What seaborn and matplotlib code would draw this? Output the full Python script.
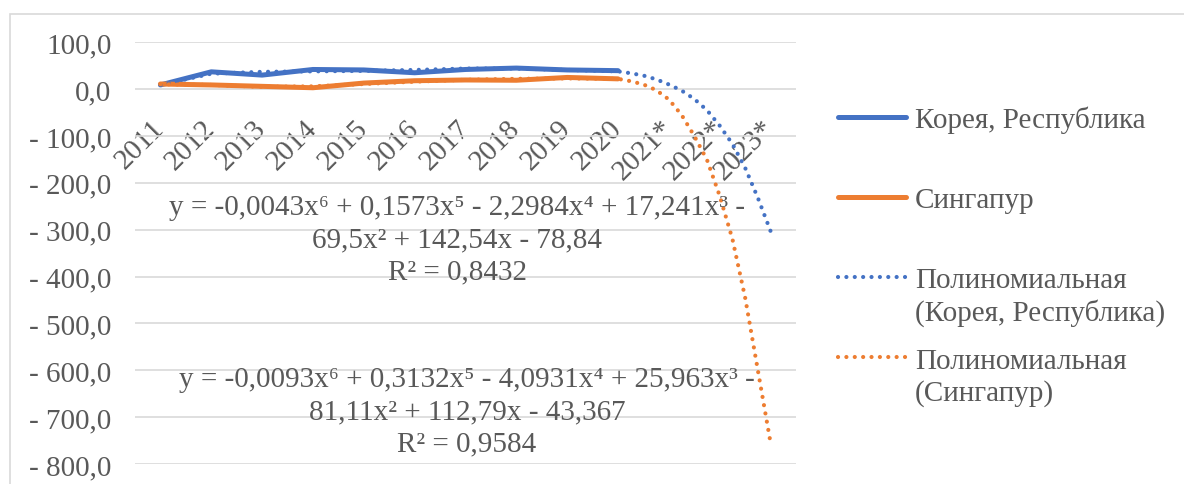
import numpy as np
import pandas as pd
import matplotlib
matplotlib.use("Agg")
import matplotlib.pyplot as plt
import seaborn as sns
from matplotlib.lines import Line2D
from matplotlib.patches import Rectangle

# Данные
years = ["2011", "2012", "2013", "2014", "2015", "2016", "2017", "2018", "2019", "2020"]
forecast_years = ["2021*", "2022*", "2023*"]
korea = [9, 37, 30, 42, 41, 35, 42, 45, 41, 39.5]
singapore = [11, 9, 6, 3, 13, 18, 19.6, 19, 25, 22]

trend_x = [0, 1, 2, 3, 4, 5, 6, 7, 8, 9, 9.25, 9.5, 9.75, 10, 10.25, 10.5, 10.75,
           11, 11.25, 11.5, 11.75, 12]
trend_korea = [9, 33, 37, 38, 39, 41, 44, 44, 41, 38, 34, 29, 21, 10, -3, -21, -45,
               -78, -117, -168, -232, -303]
trend_singapore = [10.5, 9, 5, 6, 11, 16, 20, 22, 23, 22, 17, 10, -2, -22, -55, -100, -151,
                   -228, -320, -445, -600, -755]

eq_korea = "y = -0,0043x⁶ + 0,1573x⁵ - 2,2984x⁴ + 17,241x³ -\n69,5x² + 142,54x - 78,84\nR² = 0,8432"
eq_singapore = "y = -0,0093x⁶ + 0,3132x⁵ - 4,0931x⁴ + 25,963x³ -\n81,11x² + 112,79x - 43,367\nR² = 0,9584"

names = ["Корея, Республика", "Сингапур"]
blue = "#4472C4"
orange = "#ED7D31"
grey_text = "#595959"
fs = 21

sns.set_style("white")
plt.rcParams['font.family'] = ['Liberation Serif', 'DejaVu Serif']

W, H = 1184, 485
fig = plt.figure(figsize=(W / 100, H / 100), dpi=100)
# рамка области диаграммы
fig.patches.append(Rectangle((9.5 / W, -0.1), 1.2, 1 - 14.5 / H + 0.1, transform=fig.transFigure,
                             fill=False, edgecolor="#D9D9D9", linewidth=1.2))

ax = fig.add_axes([135 / W, 20 / H, 661 / W, 421.7 / H])

df = pd.DataFrame({
    "x": list(range(len(years))) * 2,
    "value": korea + singapore,
    "series": [names[0]] * len(years) + [names[1]] * len(years),
})
sns.lineplot(data=df, x="x", y="value", hue="series", palette=[blue, orange],
             linewidth=3.6, solid_capstyle="round", legend=False, ax=ax, zorder=3)

dots = (0, (0.01, 2.0))
sns.lineplot(x=trend_x, y=trend_korea, color=blue, linewidth=3.0, linestyle=dots,
             dash_capstyle="round", ax=ax, zorder=4)
sns.lineplot(x=trend_x, y=trend_singapore, color=orange, linewidth=3.0, linestyle=dots,
             dash_capstyle="round", ax=ax, zorder=4)

# ось категорий проходит через ноль
ax.spines["bottom"].set_position(("data", 0))
for s in ["left", "right", "top", "bottom"]:
    ax.spines[s].set_visible(False)

ax.set_xlim(-0.5, 12.5)
ax.set_ylim(-800, 100)
yt = np.arange(-800, 101, 100)
ax.set_yticks(yt)
ax.set_yticklabels([("- " if v < 0 else "") + f"{abs(v)},0" for v in yt],
                   fontsize=fs, color=grey_text)
ax.yaxis.grid(True, color="#D9D9D9", linewidth=1.2)
ax.set_axisbelow(True)

ax.set_xticks(range(len(years) + len(forecast_years)))
ax.set_xticklabels(years + forecast_years, rotation=45, ha="right", va="center",
                   rotation_mode="anchor", fontsize=fs, color=grey_text)
for lab in ax.get_xticklabels():
    lab.set_x(lab.get_position()[0] + 0.05)
ax.tick_params(axis="x", length=0, pad=25)
ax.tick_params(axis="y", length=0, pad=17)
ax.set_xlabel("")
ax.set_ylabel("")

# уравнения трендов
fig.text(457 / W, 1 - 240 / H, eq_korea, ha="center", va="center", fontsize=fs,
         color=grey_text, linespacing=1.3)
fig.text(467 / W, 1 - 412 / H, eq_singapore, ha="center", va="center", fontsize=fs,
         color=grey_text, linespacing=1.3)

# легенда
legend_items = [
    (118, blue, "-", 3.6, [(128, "Корея, Республика")]),
    (198, orange, "-", 3.6, [(208, "Сингапур")]),
    (278, blue, dots, 3.0, [(288, "Полиномиальная"), (321, "(Корея, Республика)")]),
    (358, orange, dots, 3.0, [(369, "Полиномиальная"), (401, "(Сингапур)")]),
]
for y, c, ls, lw, texts in legend_items:
    fig.add_artist(Line2D([838 / W, 906 / W], [1 - y / H, 1 - y / H], transform=fig.transFigure,
                          color=c, linestyle=ls, linewidth=lw, solid_capstyle="round",
                          dash_capstyle="round"))
    for ty, t in texts:
        fig.text(915 / W, 1 - ty / H, t, ha="left", va="baseline", fontsize=fs, color=grey_text)

fig.savefig("out.png", dpi=100)
